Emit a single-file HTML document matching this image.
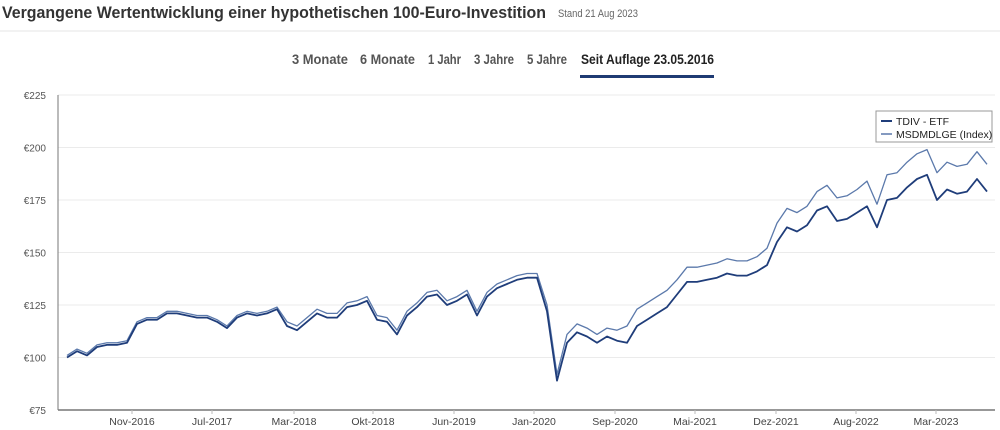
<!DOCTYPE html>
<html><head><meta charset="utf-8"><style>
html,body{margin:0;padding:0;background:#fff;width:1000px;height:430px;overflow:hidden}
svg{display:block;font-family:"Liberation Sans Narrow","Liberation Sans",sans-serif}
</style></head><body>
<svg id="c" width="1000" height="430">
<text x="2" y="18" font-size="17" font-weight="bold" fill="#333" textLength="544" lengthAdjust="spacingAndGlyphs">Vergangene Wertentwicklung einer hypothetischen 100-Euro-Investition</text>
<text x="558" y="17" font-size="11" fill="#666" textLength="80" lengthAdjust="spacingAndGlyphs">Stand  21 Aug 2023</text>
<line x1="0" y1="31" x2="1000" y2="31" stroke="#e6e6e6"/>
<g font-size="14" font-weight="bold" fill="#555">
<text x="292" y="64" textLength="56" lengthAdjust="spacingAndGlyphs">3 Monate</text>
<text x="360" y="64" textLength="55" lengthAdjust="spacingAndGlyphs">6 Monate</text>
<text x="428" y="64" textLength="33" lengthAdjust="spacingAndGlyphs">1 Jahr</text>
<text x="474" y="64" textLength="40" lengthAdjust="spacingAndGlyphs">3 Jahre</text>
<text x="527" y="64" textLength="40" lengthAdjust="spacingAndGlyphs">5 Jahre</text>
<text x="581" y="64" textLength="133" lengthAdjust="spacingAndGlyphs" fill="#222">Seit Auflage 23.05.2016</text>
</g>
<rect x="580" y="75" width="134" height="3" fill="#1f3b73"/>
<g id="grid"></g><g id="axes"></g><g id="series"></g>
<g>
<rect x="876" y="111" width="116" height="31" fill="#fff" stroke="#999"/>
<line x1="881" y1="121" x2="892" y2="121" stroke="#1f3d7a" stroke-width="2"/>
<text x="896" y="125" font-size="10.5" fill="#222">TDIV - ETF</text>
<line x1="881" y1="134" x2="892" y2="134" stroke="#5b79ab" stroke-width="1.5"/>
<text x="896" y="138" font-size="10.5" fill="#222">MSDMDLGE (Index)</text>
</g>
</svg>
<script>
const tdiv=[100,103,101,105,106,106,107,116,118,118,121,121,120,119,119,117,114,119,121,120,121,123,115,113,117,121,119,119,124,125,127,118,117,111,120,124,129,130,125,127,130,120,129,133,135,137,138,138,122,89,107,112,110,107,110,108,107,115,118,121,124,130,136,136,137,138,140,139,139,141,144,155,162,160,163,170,172,165,166,169,172,162,175,176,181,185,187,175,180,178,179,185,179];
const msci=[101,104,102,106,107,107,108,117,119,119,122,122,121,120,120,118,115,120,122,121,122,124,117,115,119,123,121,121,126,127,129,120,119,113,122,126,131,132,127,129,132,122,131,135,137,139,140,140,125,92,111,116,114,111,114,113,115,123,126,129,132,137,143,143,144,145,147,146,146,148,152,164,171,169,172,179,182,176,177,180,184,173,187,188,193,197,199,188,193,191,192,198,192];
const yTicks=[75,100,125,150,175,200,225];
const xTickLabels=["Nov-2016","Jul-2017","Mar-2018","Okt-2018","Jun-2019","Jan-2020","Sep-2020","Mai-2021","Dez-2021","Aug-2022","Mar-2023"];
const xTickIdx=[6.5,14.5,22.7,30.6,38.7,46.7,54.8,62.8,70.9,78.9,86.9];
const L=58,R=995,T=95,B=410,X0=67,X1=987;
const ymin=75,ymax=225;
const y=v=>B-(v-ymin)/(ymax-ymin)*(B-T);
const x=i=>X0+i/(tdiv.length-1)*(X1-X0);
const NS="http://www.w3.org/2000/svg";
function mk(tag,attrs,parent){const e=document.createElementNS(NS,tag);for(const k in attrs)e.setAttribute(k,attrs[k]);parent.appendChild(e);return e;}
const grid=document.getElementById('grid'),axes=document.getElementById('axes'),series=document.getElementById('series');
yTicks.forEach(v=>{
  const g=mk('line',{x1:L,x2:R,y1:y(v),y2:y(v),stroke:'#ebebeb'},grid);
  
  
  const t=mk('text',{x:46,y:y(v)+4,'font-size':10,fill:'#555','text-anchor':'end'},axes);
  t.textContent='€'+v;
  
  
});
const ya=mk('line',{x1:L,x2:L,y1:T,y2:B,stroke:'#777'},axes);


const xa=mk('line',{x1:L,x2:R,y1:B,y2:B,stroke:'#777','stroke-width':1.5},axes);


xTickIdx.forEach((idx,i)=>{
  const tk=mk('line',{x1:x(idx),x2:x(idx),y1:B,y2:B+4,stroke:'#bbb'},axes);
  
  
  const t=mk('text',{x:x(idx),y:425,'font-size':10.5,fill:'#444','text-anchor':'middle'},axes);
  t.textContent=xTickLabels[i];
  
  
});
function path(arr){return arr.map((v,i)=>(i?'L':'M')+x(i).toFixed(1)+','+y(v).toFixed(1)).join('');}
const p2=mk('path',{d:path(msci),fill:'none',stroke:'#5b79ab','stroke-width':1.3,'stroke-linejoin':'round'},series);


const p1=mk('path',{d:path(tdiv),fill:'none',stroke:'#1f3d7a','stroke-width':1.8,'stroke-linejoin':'round'},series);


</script>
</body></html>
